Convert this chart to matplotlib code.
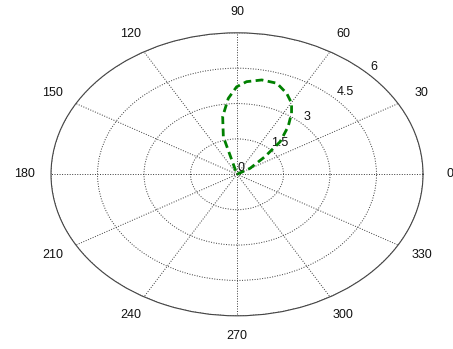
import numpy as np
import matplotlib
matplotlib.use("Agg")
import matplotlib.pyplot as plt

plt.rcParams['font.family'] = ['Liberation Sans', 'DejaVu Sans']

# lobe sampled as (angle in degrees, radius)
theta_deg = [31, 31, 39.7, 44.8, 50.8, 55.8, 59.7, 65, 71.6, 78.7, 85.5, 90.2, 95, 100.7, 105.5, 108]
radius = [0, 0.49, 1.17, 1.96, 2.61, 3.13, 3.49, 3.79, 4.07, 4.08, 3.94, 3.71, 3.23, 2.49, 1.65, 0]

angle_ticks = [0, 30, 60, 90, 120, 150, 180, 210, 240, 270, 300, 330]
radial_ticks = [0, 1.5, 3, 4.5, 6]
radial_labels = ['0', '1.5', '3', '4.5', '6']
r_max = 6

fig = plt.figure(figsize=(4.53, 3.49), dpi=100)
ax = fig.add_axes([0.1126, 0.0951, 0.8212, 0.8109], projection='polar')
ax.set_aspect('auto')
ax.set_ylim(0, r_max)

grid_style = dict(color='#3a3a3a', linestyle=(0, (1, 1.6)), linewidth=0.7)
ax.set_xticks(np.deg2rad(angle_ticks))
ax.set_xticklabels([])
ax.set_yticks(radial_ticks[1:])
ax.set_yticklabels([])
ax.grid(True, **grid_style)
ax.tick_params(length=0)
ax.spines['polar'].set_color('#444444')
ax.spines['polar'].set_linewidth(0.8)

# angle labels just outside the rim
for a in angle_ticks:
    ax.text(np.deg2rad(a), r_max * 1.145, str(a), ha='center', va='center',
            fontsize=9, clip_on=False, color='#111111')

# radial labels along the 45 degree spoke
for r, lab in zip(radial_ticks, radial_labels):
    ax.text(np.deg2rad(45), r * 1.01 + 0.02, lab, ha='left', va='bottom',
            fontsize=9, color='#111111', clip_on=False)

ax.plot(np.deg2rad(theta_deg), radius, color='#008000', linewidth=2.0,
        linestyle=(0, (2.8, 1.6)), zorder=5)

fig.savefig('out.png', dpi=100)
